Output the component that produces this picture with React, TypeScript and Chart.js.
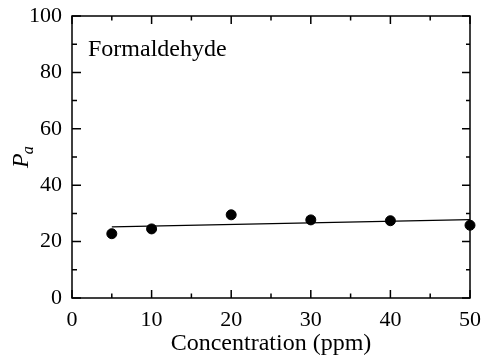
import React, { useEffect, useRef } from 'react';
import { Chart, registerables } from 'chart.js';

Chart.register(...registerables);

const concentration = [5, 10, 20, 30, 40, 50];
const paValues = [22.8, 24.5, 29.5, 27.7, 27.4, 25.8];
const fitX = [5, 50];
const fitY = [25.2, 27.8];
const xTicks = [0, 10, 20, 30, 40, 50];
const yTicks = [0, 20, 40, 60, 80, 100];
const xMinorStep = 5;
const yMinorStep = 10;
const seriesLabel = 'Formaldehyde';
const xTitle = 'Concentration (ppm)';
const yTitleMain = 'P';
const yTitleSub = 'a';

const FONT = "'Liberation Serif', 'Times New Roman', serif";

const framePlugin = {
  id: 'frame',
  beforeDatasetsDraw(chart: any) {
    const { ctx, chartArea } = chart;
    const { left, right, top, bottom } = chartArea;
    const xs = chart.scales.x;
    const ys = chart.scales.y;
    ctx.save();
    ctx.strokeStyle = '#000';
    ctx.lineWidth = 1.5;
    ctx.strokeRect(left, top, right - left, bottom - top);
    ctx.beginPath();
    for (let v = xs.min; v <= xs.max + 1e-9; v += xMinorStep) {
      const px = xs.getPixelForValue(v);
      const major = xTicks.includes(v);
      const lb = major ? 8 : 4.5;
      const lt = major ? 8 : 4.5;
      ctx.moveTo(px, bottom);
      ctx.lineTo(px, bottom - lb);
      ctx.moveTo(px, top);
      ctx.lineTo(px, top + lt);
    }
    for (let v = ys.min; v <= ys.max + 1e-9; v += yMinorStep) {
      const py = ys.getPixelForValue(v);
      const major = yTicks.includes(v);
      const ll = major ? 9 : 5;
      const lr = major ? 8 : 4;
      ctx.moveTo(left, py);
      ctx.lineTo(left + ll, py);
      ctx.moveTo(right, py);
      ctx.lineTo(right - lr, py);
    }
    ctx.stroke();
    ctx.restore();
  },
  afterDraw(chart: any) {
    const { ctx, chartArea } = chart;
    ctx.save();
    ctx.fillStyle = '#000';
    ctx.textBaseline = 'alphabetic';
    ctx.textAlign = 'left';
    ctx.font = `24px ${FONT}`;
    ctx.fillText(seriesLabel, chartArea.left + 16, 56);
    ctx.translate(28, 168);
    ctx.rotate(-Math.PI / 2);
    ctx.font = `italic 24px ${FONT}`;
    ctx.fillText(yTitleMain, 0, 0);
    const w = ctx.measureText(yTitleMain).width;
    ctx.font = `italic 16px ${FONT}`;
    ctx.fillText(yTitleSub, w - 1, 5);
    ctx.restore();
  },
};

export default function App() {
  const ref = useRef<HTMLCanvasElement | null>(null);
  useEffect(() => {
    if (!ref.current) return;
    const tickFont = { family: FONT, size: 22 };
    const chart = new Chart(ref.current, {
      type: 'scatter',
      data: {
        datasets: [
          {
            type: 'scatter',
            label: seriesLabel,
            data: concentration.map((x, i) => ({ x, y: paValues[i] })),
            backgroundColor: '#000',
            borderColor: '#000',
            pointRadius: 5,
            pointHoverRadius: 5,
            clip: false,
          } as any,
          {
            type: 'line',
            label: 'fit',
            data: fitX.map((x, i) => ({ x, y: fitY[i] })),
            borderColor: '#000',
            borderWidth: 1.2,
            pointRadius: 0,
            fill: false,
            clip: false,
          } as any,
        ],
      },
      options: {
        animation: false,
        responsive: false,
        maintainAspectRatio: false,
        layout: { padding: { left: 0, right: 15, top: 16, bottom: 0 } },
        plugins: { legend: { display: false }, tooltip: { enabled: false } },
        scales: {
          x: {
            type: 'linear',
            min: 0,
            max: 50,
            afterBuildTicks: (s: any) => {
              s.ticks = xTicks.map((v) => ({ value: v }));
            },
            grid: { display: false, drawTicks: false },
            border: { display: false },
            ticks: { font: tickFont, color: '#000', padding: 9, maxRotation: 0, autoSkip: false },
            title: { display: true, text: xTitle, font: { family: FONT, size: 24 }, color: '#000', padding: 0 },
            afterFit: (s: any) => {
              s.height = 60;
              s.paddingLeft = 0;
              s.paddingRight = 0;
            },
          },
          y: {
            type: 'linear',
            min: 0,
            max: 100,
            afterBuildTicks: (s: any) => {
              s.ticks = yTicks.map((v) => ({ value: v }));
            },
            grid: { display: false, drawTicks: false },
            border: { display: false },
            ticks: { font: tickFont, color: '#000', padding: 10, autoSkip: false },
            afterFit: (s: any) => {
              s.width = 72;
              s.paddingTop = 0;
              s.paddingBottom = 0;
            },
          },
        },
      } as any,
      plugins: [framePlugin],
    });
    return () => chart.destroy();
  }, []);
  return (
    <div style={{ position: 'fixed', left: 0, top: 0, width: 485, height: 358, background: '#fff' }}>
      <canvas ref={ref} width={485} height={358} style={{ width: 485, height: 358, display: 'block' }} />
    </div>
  );
}
